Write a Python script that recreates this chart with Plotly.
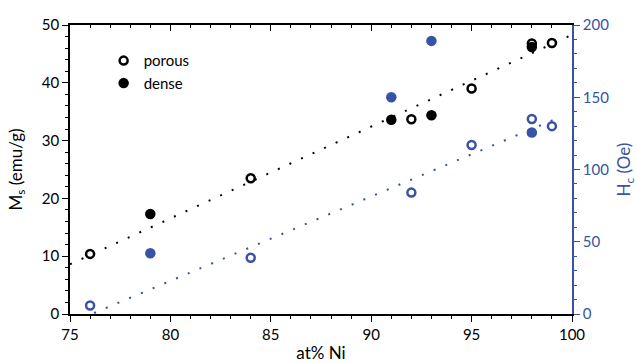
import plotly.graph_objects as go

# Composition (at% Ni) and measured properties
porous_ni = [76, 84, 92, 95, 98, 99]
porous_ms = [10.4, 23.5, 33.7, 39.0, 46.8, 46.9]
porous_hc = [5.9, 38.9, 84, 117, 135, 130]

dense_ni = [79, 91, 93, 98]
dense_ms = [17.3, 33.6, 34.4, 46.2]
dense_hc = [42, 150, 189, 125.6]

# Linear trend lines
ms_trend_ni = [75.0, 100.0]
ms_trend = [8.6, 48.3]
hc_trend_ni = [76.2, 99.5]
hc_trend = [0.7, 136.8]

BLUE = "#3653a6"
FONT = "Lato, Carlito, 'Open Sans', sans-serif"
DOTS = "2px,10.7px"

fig = go.Figure()

fig.add_trace(go.Scatter(x=ms_trend_ni, y=ms_trend, mode="lines",
                         line=dict(color="black", width=2, dash=DOTS),
                         showlegend=False, hoverinfo="skip"))
fig.add_trace(go.Scatter(x=hc_trend_ni, y=hc_trend, mode="lines", yaxis="y2",
                         line=dict(color=BLUE, width=2, dash=DOTS),
                         showlegend=False, hoverinfo="skip"))

fig.add_trace(go.Scatter(x=porous_ni, y=porous_hc, mode="markers", yaxis="y2",
                         marker=dict(symbol="circle-open", size=8, color=BLUE,
                                     line=dict(width=2.5, color=BLUE)),
                         showlegend=False))
fig.add_trace(go.Scatter(x=dense_ni, y=dense_hc, mode="markers", yaxis="y2",
                         marker=dict(symbol="circle", size=10.5, color=BLUE),
                         showlegend=False))

fig.add_trace(go.Scatter(x=porous_ni, y=porous_ms, mode="markers", name="porous",
                         marker=dict(symbol="circle-open", size=8, color="black",
                                     line=dict(width=2.5, color="black"))))
fig.add_trace(go.Scatter(x=dense_ni, y=dense_ms, mode="markers", name="dense",
                         marker=dict(symbol="circle", size=10.5, color="black")))

# invisible trace on the top axis so its inward ticks are drawn
fig.add_trace(go.Scatter(x=[75], y=[0], xaxis="x2", mode="markers",
                         marker=dict(opacity=0), showlegend=False, hoverinfo="skip"))

fig.update_layout(
    width=637, height=363,
    margin=dict(l=69.5, r=65, t=24.5, b=48.7, autoexpand=False),
    paper_bgcolor="white", plot_bgcolor="white",
    font=dict(family=FONT, size=15, color="black"),
    xaxis=dict(
        range=[75, 100], dtick=5, tick0=75, automargin=False,
        showline=True, linecolor="black", linewidth=1.5,
        ticks="outside", ticklen=6, tickwidth=1.3, tickcolor="black",
        minor=dict(dtick=1, ticks="outside", ticklen=3.5, tickwidth=1.1, tickcolor="black"),
        showgrid=False, zeroline=False,
        title=dict(text="at% Ni", font=dict(size=17)),
        tickfont=dict(size=15),
    ),
    xaxis2=dict(
        range=[75, 100], dtick=5, tick0=75, overlaying="x", side="top", automargin=False,
        showline=True, linecolor="black", linewidth=1.5,
        ticks="inside", ticklen=6, tickwidth=1.3, tickcolor="black",
        minor=dict(dtick=1, ticks="inside", ticklen=3.5, tickwidth=1.1, tickcolor="black"),
        showticklabels=False, showgrid=False, zeroline=False,
    ),
    yaxis=dict(
        range=[0, 50], dtick=10, automargin=False,
        showline=True, linecolor="black", linewidth=1.5,
        ticks="outside", ticklen=6, tickwidth=1.3, tickcolor="black",
        minor=dict(dtick=2, ticks="outside", ticklen=3.5, tickwidth=1.1, tickcolor="black"),
        showgrid=False, zeroline=False,
        title=dict(text="M<sub>s</sub> (emu/g)", font=dict(size=17)),
        tickfont=dict(size=15),
    ),
    yaxis2=dict(
        range=[0, 200], dtick=50, overlaying="y", side="right", automargin=False,
        showline=True, linecolor=BLUE, linewidth=1.5,
        ticks="outside", ticklen=6, tickwidth=1.3, tickcolor=BLUE,
        minor=dict(dtick=10, ticks="outside", ticklen=3.5, tickwidth=1.1, tickcolor=BLUE),
        showgrid=False, zeroline=False,
        title=dict(text="H<sub>c</sub> (Oe)", font=dict(size=17, color=BLUE)),
        tickfont=dict(size=15, color=BLUE),
    ),
    legend=dict(x=0.067, y=0.933, xanchor="left", yanchor="top",
                bgcolor="rgba(0,0,0,0)", font=dict(size=15)),
)

fig.write_html("out.html")
